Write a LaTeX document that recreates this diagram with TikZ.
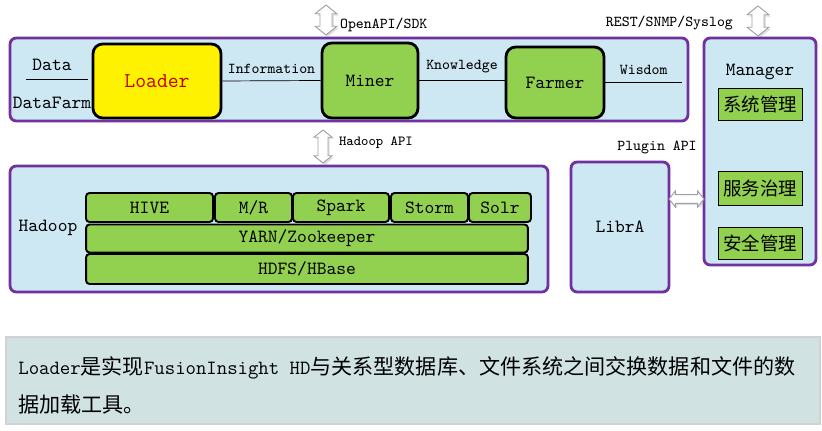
\documentclass[tikz,border=0pt]{standalone}
\usepackage{fontspec}
\renewcommand{\familydefault}{\ttdefault}
\newfontfamily\cjk{Noto Sans CJK SC}
\usetikzlibrary{positioning}
\usetikzlibrary{shadows}
\definecolor{frame}{RGB}{112,48,160}
\definecolor{pale}{RGB}{205,231,243}
\definecolor{leaf}{RGB}{146,208,80}
\definecolor{note}{RGB}{208,226,226}
\definecolor{loaderred}{RGB}{192,0,0}
\newcommand{\en}[1]{{\ttfamily\fontsize{11.5}{22}\selectfont #1}}
\tikzset{
  area/.style={draw=frame, line width=1.6pt, fill=pale, rounded corners=3.5pt, font=\fontsize{10.6}{12}\selectfont},
  comp/.style={draw=black, line width=1.6pt, fill=leaf, rounded corners=5.5pt, font=\fontsize{10.6}{12}\selectfont},
  layer/.style={draw=black, line width=1.1pt, fill=leaf, rounded corners=2pt, inner sep=0pt, font=\fontsize{10.6}{12}\selectfont},
  task/.style={draw=black, line width=0.5pt, fill=leaf, minimum width=1.68cm, inner sep=0pt, font=\cjk\fontsize{10.5}{12}\selectfont},
  lbl/.style={font=\fontsize{8.6}{10}\selectfont, inner sep=1pt},
  txt/.style={font=\fontsize{10.6}{12}\selectfont, inner sep=1pt},
  apibody/.style={draw=gray!75, fill=white, line width=0.5pt, line join=miter,
    drop shadow={opacity=0.25, shadow xshift=1pt, shadow yshift=-1pt}},
  % hollow double arrow: half length, half head width
  pics/apiarrow/.style 2 args={code={
    \draw[apibody] (-#1,0) -- ({-#1+0.8*#2},-#2) -- ({-#1+0.8*#2},{-0.55*#2})
      -- ({#1-0.8*#2},{-0.55*#2}) -- ({#1-0.8*#2},-#2) -- (#1,0)
      -- ({#1-0.8*#2},#2) -- ({#1-0.8*#2},{0.55*#2}) -- ({-#1+0.8*#2},{0.55*#2})
      -- ({-#1+0.8*#2},#2) -- cycle;
  }}
}
\begin{document}
\begin{tikzpicture}[x=0.02cm, y=-0.02cm]
\useasboundingbox (0,0) rectangle (822,431);
% data flow
\node[area, minimum width=13.56cm, minimum height=1.66cm] (flow) at (349,79.5) {};
\node[comp, fill=yellow, minimum width=2.56cm, minimum height=1.48cm, text=loaderred,
      font=\fontsize{12}{14}\selectfont] (loader) at (157,81) {Loader};
\node[comp, minimum width=1.92cm, minimum height=1.5cm] (miner) at (370,80.5) {Miner};
\node[comp, minimum width=1.96cm, minimum height=1.42cm] (farmer) at (555,82.5) {Farmer};
\coordinate (d1) at (26,79);
\coordinate (d2) at (88,79);
\coordinate (w2) at (682,82.5);
\node[txt] (data) at (52,65) {Data};
\node[txt] (datafarm) at (52,103) {DataFarm};
\draw (d1) -- (d2);
\begin{scope}[every node/.style={lbl, midway, above=3pt}]
  \draw (loader.east) -- (miner.west) node {Information};
  \draw (miner.east) -- (miner.east -| farmer.west) node {Knowledge};
  \draw (farmer.east) -- (w2) node {Wisdom};
\end{scope}

% manager
\node[area, minimum width=2.24cm, minimum height=4.54cm] (mgr) at (760,151.5) {};
\node[txt] (mgrname) at (760,72) {Manager};
\node[task, minimum height=0.64cm] (sys) at (760,104) {系统管理};
\node[task, minimum height=0.68cm] (svc) at (760,188) {服务治理};
\node[task, minimum height=0.64cm] (sec) at (760,243) {安全管理};

% hadoop
\node[area, minimum width=10.76cm, minimum height=2.52cm] (hadoop) at (279,229) {};
\node[txt] (hadoopname) at (48,228) {Hadoop};
\node[layer, minimum width=2.54cm, minimum height=0.58cm] (hive) at (149.5,207.5) {HIVE};
\node[layer, minimum width=1.54cm, minimum height=0.58cm] (mr) at (253.5,207.5) {M/R};
\node[layer, minimum width=1.92cm, minimum height=0.58cm] (spark) at (341,207.5) {Spark};
\node[layer, minimum width=1.54cm, minimum height=0.58cm] (storm) at (429.5,207.5) {Storm};
\node[layer, minimum width=1.24cm, minimum height=0.58cm] (solr) at (500,207.5) {Solr};
\node[layer, minimum width=8.84cm, minimum height=0.56cm] (yarn) at (307,238.5) {YARN/Zookeeper};
\node[layer, minimum width=8.84cm, minimum height=0.6cm] (hdfs) at (307,269) {HDFS/HBase};

% libra
\node[area, minimum width=1.96cm, minimum height=2.6cm] (libra) at (620,227) {LibrA};

% interfaces
\pic[rotate=90] (openapi) at (326,20) {apiarrow={15}{11}};
\node[lbl, anchor=west] (openapitxt) at (338,25) {OpenAPI/SDK};
\pic[rotate=90] (rest) at (758,21) {apiarrow={15}{11}};
\node[lbl, anchor=east] (resttxt) at (735,23) {REST/SNMP/Syslog};
\pic[rotate=90] (hapi) at (323,146.5) {apiarrow={16.5}{9}};
\node[lbl, anchor=west, font=\fontsize{7.9}{9}\selectfont] (hapitxt) at (337,143) {Hadoop API};
\pic (plugin) at (686.5,199) {apiarrow={17.5}{8}};
\node[lbl] (plugintxt) at (657,148) {Plugin API};

% note
\node[draw=gray!35, line width=1.5pt, fill=note, minimum width=16.28cm, minimum height=1.74cm] (note) at (413,380.5) {};
\node[anchor=west, align=left, inner sep=0pt, font=\cjk\fontsize{12}{22}\selectfont] (notetxt) at (18,385.5)
  {\en{Loader}是实现\en{FusionInsight HD}与关系型数据库、文件系统之间交换数据和文件的数\\据加载工具。};
\end{tikzpicture}
\end{document}
